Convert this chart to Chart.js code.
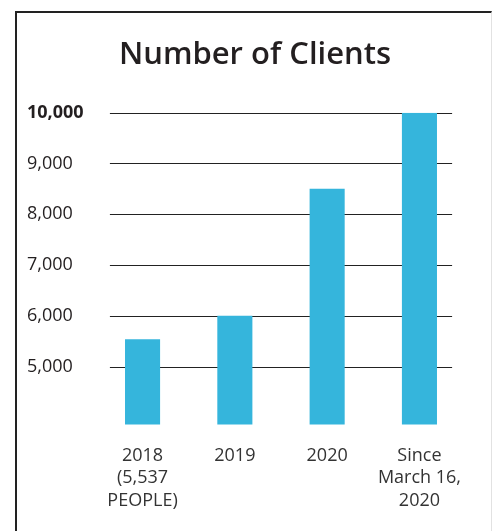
<!DOCTYPE html>
<html>
<head>
<meta charset="utf-8">
<script src="https://cdn.jsdelivr.net/npm/chart.js@4"></script>
<style>
  body { margin: 0; background: #fff; overflow: hidden; }
  #box {
    position: absolute; left: 15px; top: 11px;
    width: 474px; height: 522px;
    border-left: 2px solid #222; border-top: 2px solid #222;
    border-right: 1px solid #e2e2e2;
  }
  #wrap { position: relative; width: 474px; height: 520px; }
</style>
</head>
<body>
<div id="box"><div id="wrap"><canvas id="bar-chart"></canvas></div></div>
<script>
// data
const categories = [["2018", "(5,537", "PEOPLE)"], "2019", "2020", ["Since", "March 16,", "2020"]];
const clients = [5537, 6000, 8500, 10000];
const yTicks = [5000, 6000, 7000, 8000, 9000, 10000];

// horizontal rules behind the bars, a bit shorter than the plot area
const ruleLines = {
  id: "ruleLines",
  beforeDatasetsDraw(chart) {
    const { ctx, chartArea, scales } = chart;
    ctx.save();
    ctx.strokeStyle = "#222";
    ctx.lineWidth = 1.2;
    yTicks.forEach((t) => {
      const y = Math.round(scales.y.getPixelForValue(t)) + 0.5;
      ctx.beginPath();
      ctx.moveTo(chartArea.left + 13.5, y);
      ctx.lineTo(chartArea.right - 13.5, y);
      ctx.stroke();
    });
    ctx.restore();
  },
};

const ctx = document.getElementById("bar-chart").getContext("2d");
new Chart(ctx, {
  type: "bar",
  data: {
    labels: categories,
    datasets: [{
      data: clients,
      backgroundColor: "#35b5dc",
      barPercentage: 0.38,
      categoryPercentage: 1,
    }],
  },
  options: {
    responsive: true,
    maintainAspectRatio: false,
    animation: false,
    layout: { padding: { left: 10, right: 8, bottom: 1, top: 0 } },
    plugins: {
      legend: { display: false },
      tooltip: { enabled: false },
      title: {
        display: true,
        text: "Number of Clients",
        color: "#231f20",
        font: { family: "Open Sans", size: 31, weight: "600" },
        padding: { top: 23.5, bottom: 39 },
      },
    },
    scales: {
      x: {
        grid: { display: false, drawTicks: false },
        border: { display: false },
        ticks: {
          color: "#333",
          padding: 20,
          maxRotation: 0,
          autoSkip: false,
          font: { family: "Open Sans", size: 18, lineHeight: 1.25 },
        },
      },
      y: {
        min: 3860,
        max: 10000,
        grid: { display: false, drawTicks: false },
        border: { display: false },
        afterBuildTicks: (axis) => { axis.ticks = yTicks.map((v) => ({ value: v })); },
        afterFit: (axis) => { axis.width = 69.4; },
        ticks: {
          color: "#231f20",
          crossAlign: "far",
          padding: 0,
          font: (c) => ({
            family: "Open Sans",
            size: 18,
            weight: c.tick && c.tick.value === 10000 ? "bold" : "normal",
          }),
          callback: (v) => v.toLocaleString("en-US"),
        },
      },
      // empty right-hand axis, only keeps space on the right
      yRight: {
        position: "right",
        grid: { display: false, drawTicks: false },
        border: { display: false },
        ticks: { display: false },
        afterFit: (axis) => { axis.width = 17.4; },
      },
    },
  },
  plugins: [ruleLines],
});
</script>
</body>
</html>
